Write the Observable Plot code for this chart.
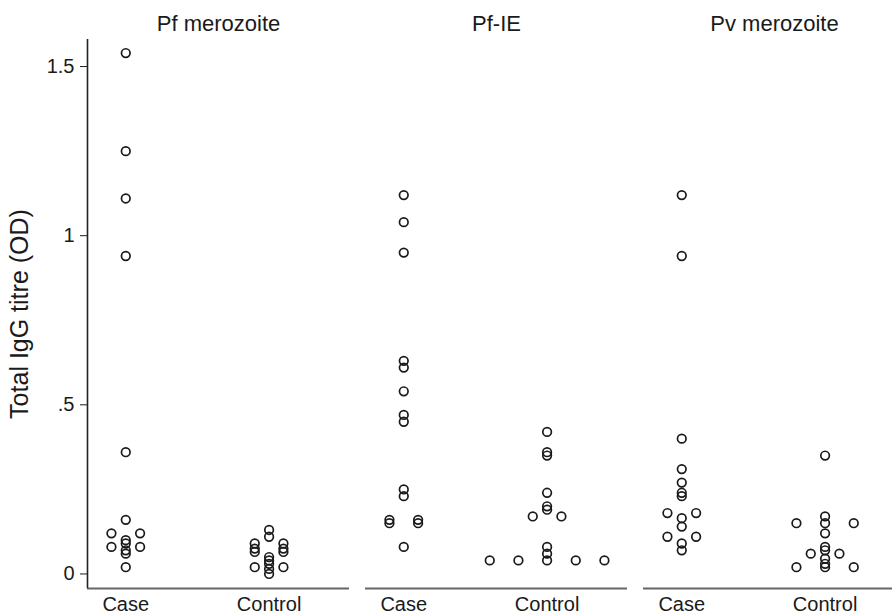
<!DOCTYPE html>
<html><head><meta charset="utf-8">
<script src="https://cdn.jsdelivr.net/npm/d3@7"></script>
<script src="https://cdn.jsdelivr.net/npm/@observablehq/plot@0.6"></script>
<style>
html,body{margin:0;padding:0;background:#fff;overflow:hidden;}
#chart{width:892px;height:615px;overflow:hidden;}
</style>
</head><body><div id="chart"></div>
<script>
const antigens = ["Pf merozoite", "Pf-IE", "Pv merozoite"];
const groups = ["Case", "Control"];
const yTicks = [0, 0.5, 1, 1.5];

const pfMerozoiteCase    = [1.54, 1.25, 1.11, 0.94, 0.36, 0.16, 0.12, 0.12, 0.10, 0.09, 0.08, 0.08, 0.07, 0.06, 0.02];
const pfMerozoiteControl = [0.13, 0.11, 0.09, 0.09, 0.075, 0.075, 0.065, 0.065, 0.05, 0.04, 0.03, 0.02, 0.02, 0.015, 0.00];
const pfIECase           = [1.12, 1.04, 0.95, 0.63, 0.61, 0.54, 0.47, 0.45, 0.25, 0.23, 0.16, 0.16, 0.15, 0.15, 0.08];
const pfIEControl        = [0.42, 0.36, 0.35, 0.24, 0.20, 0.19, 0.17, 0.17, 0.08, 0.06, 0.04, 0.04, 0.04, 0.04, 0.04];
const pvMerozoiteCase    = [1.12, 0.94, 0.40, 0.31, 0.27, 0.24, 0.23, 0.18, 0.18, 0.165, 0.14, 0.11, 0.11, 0.09, 0.07];
const pvMerozoiteControl = [0.35, 0.17, 0.15, 0.15, 0.15, 0.12, 0.08, 0.07, 0.06, 0.06, 0.045, 0.03, 0.02, 0.02, 0.02];

const series = [
  [antigens[0], groups[0], pfMerozoiteCase],
  [antigens[0], groups[1], pfMerozoiteControl],
  [antigens[1], groups[0], pfIECase],
  [antigens[1], groups[1], pfIEControl],
  [antigens[2], groups[0], pvMerozoiteCase],
  [antigens[2], groups[1], pvMerozoiteControl]
];

// dot-plot layout: equal values spread symmetrically around the group position
const spread = 0.2;
const rows = [];
for (const [antigen, group, values] of series) {
  const gi = groups.indexOf(group) + 1;
  for (const [v, arr] of d3.group(values, d => d)) {
    const n = arr.length;
    arr.forEach((_, i) => rows.push({antigen, group, value: v, pos: gi + (i - (n - 1) / 2) * spread}));
  }
}

const xDomain = [0.733, 2.561];
const yDomain = [-0.043, 1.58];
const yFormat = d => d === 0 ? "0" : String(d).replace(/^0\./, ".");

const chart = Plot.plot({
  width: 905,
  height: 615,
  marginLeft: 87,
  marginRight: 0,
  marginTop: 39,
  marginBottom: 27,
  style: {fontFamily: "'Liberation Sans', Arial, sans-serif", fontSize: "20px", color: "#1a1a1a", background: "#fff"},
  fx: {domain: antigens, axis: null, paddingInner: 0.058, paddingOuter: 0},
  x: {domain: xDomain},
  y: {domain: yDomain},
  marks: [
    Plot.axisFx({anchor: "top", label: null, tickSize: 0, tickPadding: 9, fontSize: 22}),
    Plot.axisX({ticks: [1, 2], tickFormat: d => groups[d - 1], tickSize: 0, tickPadding: 8, label: null, fontSize: 20}),
    Plot.axisY({ticks: yTicks, tickFormat: yFormat, tickSize: 7, tickPadding: 6, fontSize: 20,
      label: "Total IgG titre (OD)", labelAnchor: "center", labelOffset: 77, labelArrow: "none"}),
    Plot.ruleY([yDomain[0]], {stroke: "#666", strokeWidth: 2}),
    Plot.ruleX([antigens[0]], {fx: d => d, x: xDomain[0], stroke: "#222", strokeWidth: 1.6}),
    Plot.dot(rows, {fx: "antigen", x: "pos", y: "value", r: 4.3, stroke: "#1a1a1a", strokeWidth: 1.7, fill: "none"})
  ]
});
// enlarge the axis title only
chart.querySelectorAll("text").forEach(t => {
  if (t.textContent === "Total IgG titre (OD)") t.setAttribute("font-size", 25);
});
// the reference crops the right edge of the last panel
chart.setAttribute("width", 892);
chart.setAttribute("viewBox", "0 0 892 615");
document.getElementById("chart").appendChild(chart);
</script>
</body></html>
